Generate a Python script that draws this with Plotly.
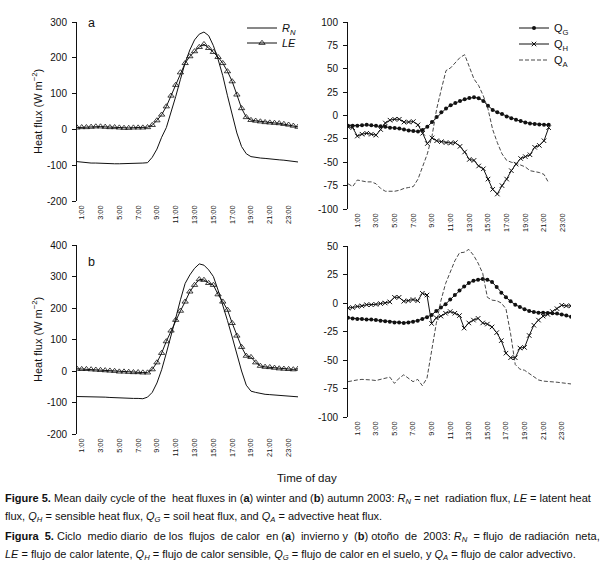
import plotly.graph_objects as go

W, H = 601, 569

# ---------------- data ----------------
# half-hour time axis (hours)
t_left = [i / 2 for i in range(1, 49)]        # 0:30 ... 24:00
t_right_a = [i / 2 for i in range(0, 44)]     # 0:00 ... 21:30
t_right_b = [i / 2 for i in range(0, 49)]     # 0:00 ... 24:00

hour_tick_vals = [1, 3, 5, 7, 9, 11, 13, 15, 17, 19, 21, 23]
hour_tick_text = ["1:00", "3:00", "5:00", "7:00", "9:00", "11:00", "13:00",
                  "15:00", "17:00", "19:00", "21:00", "23:00"]

# (a) winter
RN_a = [-90, -92, -93, -94, -94, -95, -95, -96, -96, -96, -96, -95, -95, -95, -94, -93,
        -78, -55, -22, 5, 46, 92, 140, 186, 222, 250, 266, 272, 262, 234, 196, 150,
        94, 42, -10, -48, -68, -76, -79, -80, -81, -83, -84, -85, -86, -87, -89, -91]
LE_a = [5, 6, 6, 7, 8, 8, 7, 6, 6, 5, 4, 4, 5, 5, 5, 6,
        12, 25, 41, 64, 94, 124, 159, 185, 204, 218, 230, 238, 227, 216, 202, 185,
        162, 134, 97, 59, 34, 26, 24, 22, 20, 19, 18, 17, 15, 13, 10, 7]
QG_a = [-11, -11, -11, -10.5, -10, -10.5, -11, -11.5, -12, -13, -13.5, -14, -15, -16, -16.7, -17,
        -15.5, -12, -7, -1.5, 3.5, 7.5, 11, 13.5, 15.5, 17.3, 18.8, 19.5, 18.5, 15.5, 10.5, 6,
        3.5, 1.5, -1, -3, -4.5, -6, -7.5, -8.5, -9, -9.5, -10, -10]
QH_a = [-12, -13, -22, -20, -19, -20, -21, -15, -8, -5, -4, -4, -7, -7, -6.5, -10,
        -19, -30, -24, -27, -28, -29, -29.5, -29, -33, -39, -47, -48, -54, -57, -68, -79,
        -84, -75, -68, -59, -52, -46, -44, -42, -34, -32, -27, -13]
QA_a = [-73, -76, -69, -70, -71, -71, -73, -78, -81, -81, -81, -80, -78, -77, -76, -68,
        -54, -41, -22, 7, 28, 48, 51, 56, 62, 65, 53, 39, 32, 21, 7, -15,
        -29, -41, -48, -50, -51, -53, -55, -59, -60, -61, -63, -72]

# (b) autumn
RN_b = [-81, -81, -81, -81, -82, -82, -83, -84, -85, -85, -86, -86, -87, -87, -88, -83,
        -68, -38, 4, 57, 110, 168, 226, 278, 305, 326, 340, 336, 321, 300, 257, 210,
        160, 108, 52, 0, -45, -64, -68, -72, -74, -75, -76, -77, -78, -80, -81, -82]
LE_b = [7, 6, 6, 5, 4, 3, 2, 1, 0, -2, -2, -3, -4, -4, -5, -5,
        5, 27, 57, 94, 128, 162, 191, 220, 252, 273, 291, 289, 279, 273, 243, 220,
        194, 152, 112, 76, 48, 44, 27, 16, 13, 12, 10, 8, 7, 6, 5, 7]
QG_b = [-13, -13.5, -14, -14, -14.5, -14.5, -15, -15.5, -16, -16.5, -17, -17, -17.5, -17, -16.5, -15.5,
        -14, -12.5, -10.5, -7, -4, -1, 3, 7, 11, 14.5, 17.5, 19.5, 20.5, 21, 20.5, 18.5,
        14, 9, 5, 1.5, -1.5, -3.5, -5.5, -7, -8, -8.5, -8.5, -8.7, -9, -9.3, -10, -11, -12]
QH_b = [-4.5, -4, -3, -2.5, -1.5, -1.5, -1.2, -0.5, 0, 1, 5, 5, 1.5, 2, 3, 2,
        8.5, 7, -18, -13, -11.5, -9, -7.5, -9, -11, -22, -17.5, -15, -13.5, -17.5, -18.5, -21,
        -26, -33, -44, -48, -48, -39.5, -39, -28.5, -19.5, -15, -11.5, -10, -7.5, -5, -2, -2.5, -2.5]
QA_b = [-69, -68, -67.5, -67, -67, -67.5, -68, -67, -66, -65, -70.5, -66, -63, -66, -69, -67,
        -72.5, -66, -40, -18, 2, 17, 27, 37, 44, 44.5, 47, 42, 35, 26, 5, 2.5,
        2, 0, -5, -27, -54, -58, -59, -62, -65, -67.5, -68.5, -68.7, -69, -69.5, -70, -70.5, -71]

yt_a_left = [-200, -100, 0, 100, 200, 300]
yt_a_right = [-100, -75, -50, -25, 0, 25, 50, 75, 100]
yt_b_left = [-200, -100, 0, 100, 200, 300, 400]
yt_b_right = [-100, -75, -50, -25, 0, 25, 50]

# ---------------- style ----------------
FONT = "Liberation Sans, Arial, sans-serif"
BLACK = "#111111"


def fx(px):
    return px / W


def fy(py):
    return 1 - py / H


panels = [
    dict(x0=77, x1=298, yt=22, yb=201, yr=[-200, 300], xr=[0.5, 24], yticks=yt_a_left,
         minor=[k + 0.5 for k in range(0, 24)]),
    dict(x0=348, x1=572, yt=22, yb=209, yr=[-100, 100], xr=[0, 24], yticks=yt_a_right,
         minor=list(range(0, 25))),
    dict(x0=77, x1=298, yt=245, yb=434, yr=[-200, 400], xr=[0.5, 24], yticks=yt_b_left,
         minor=[k + 0.5 for k in range(0, 24)]),
    dict(x0=348, x1=571, yt=246, yb=417, yr=[-100, 50], xr=[0, 24], yticks=yt_b_right,
         minor=list(range(0, 25))),
]

fig = go.Figure()
layout = {}
for i, p in enumerate(panels, start=1):
    xd = [fx(p["x0"]), fx(p["x1"])]
    yd = [fy(p["yb"]), fy(p["yt"])]
    r0, r1 = p["yr"]
    zero_pos = yd[0] + (0 - r0) / (r1 - r0) * (yd[1] - yd[0])
    layout[f"xaxis{i}"] = dict(
        domain=xd, anchor=f"y{i}", range=p["xr"], tickvals=hour_tick_vals,
        ticktext=hour_tick_text, tickangle=-90, showline=False, ticks="",
        zeroline=False, showgrid=False, tickfont=dict(family=FONT, size=7.4, color=BLACK),
        fixedrange=True, automargin=False, ticklabelstandoff=2,
    )
    layout[f"yaxis{i}"] = dict(
        domain=yd, anchor=f"x{i}", range=p["yr"], tickvals=p["yticks"],
        ticktext=[str(v) for v in p["yticks"]], ticks="outside", ticklen=4,
        tickcolor=BLACK, showline=True, linecolor=BLACK, linewidth=1,
        zeroline=False, showgrid=False, tickfont=dict(family=FONT, size=10, color=BLACK),
        fixedrange=True, automargin=False, ticklabelstandoff=3,
    )
    layout[f"xaxis{i + 4}"] = dict(
        overlaying=f"x{i}", anchor="free", position=zero_pos, range=p["xr"],
        side="bottom", showline=True, linecolor=BLACK, linewidth=1,
        ticks="outside", ticklen=4, tickcolor="#777777", tickvals=p["minor"],
        showticklabels=False, showgrid=False, zeroline=False, fixedrange=True,
        automargin=False,
    )

line_kw = dict(color=BLACK, width=1)
tri = dict(symbol="triangle-up-open", size=5.5, color=BLACK, line=dict(width=0.8, color=BLACK))
dot = dict(symbol="circle", size=4, color=BLACK)
cross = dict(symbol="x-thin", size=4.5, color=BLACK, line=dict(width=1, color=BLACK))
dash_kw = dict(color="#333333", width=0.9, dash="4px,2px")

# (a) left
fig.add_trace(go.Scatter(x=t_left, y=RN_a, mode="lines", line=line_kw,
                         name="<i>R<sub>N</sub></i>", xaxis="x1", yaxis="y1", legend="legend"))
fig.add_trace(go.Scatter(x=t_left, y=LE_a, mode="lines+markers", line=line_kw, marker=tri,
                         name="<i>LE</i>", xaxis="x1", yaxis="y1", legend="legend2"))
# (a) right
fig.add_trace(go.Scatter(x=t_right_a, y=QG_a, mode="lines+markers", line=line_kw, marker=dot,
                         name="Q<sub>G</sub>", xaxis="x2", yaxis="y2", legend="legend3"))
fig.add_trace(go.Scatter(x=t_right_a, y=QH_a, mode="lines+markers", line=line_kw, marker=cross,
                         name="Q<sub>H</sub>", xaxis="x2", yaxis="y2", legend="legend4"))
fig.add_trace(go.Scatter(x=t_right_a, y=QA_a, mode="lines", line=dash_kw,
                         name="Q<sub>A</sub>", xaxis="x2", yaxis="y2", legend="legend5"))
# (b) left
fig.add_trace(go.Scatter(x=t_left, y=RN_b, mode="lines", line=line_kw, showlegend=False,
                         xaxis="x3", yaxis="y3"))
fig.add_trace(go.Scatter(x=t_left, y=LE_b, mode="lines+markers", line=line_kw, marker=tri,
                         showlegend=False, xaxis="x3", yaxis="y3"))
# (b) right
fig.add_trace(go.Scatter(x=t_right_b, y=QG_b, mode="lines+markers", line=line_kw, marker=dot,
                         showlegend=False, xaxis="x4", yaxis="y4"))
fig.add_trace(go.Scatter(x=t_right_b, y=QH_b, mode="lines+markers", line=line_kw, marker=cross,
                         showlegend=False, xaxis="x4", yaxis="y4"))
fig.add_trace(go.Scatter(x=t_right_b, y=QA_b, mode="lines", line=dash_kw, showlegend=False,
                         xaxis="x4", yaxis="y4"))

leg_font = dict(family=FONT, size=11, color=BLACK)


def legend_at(px, py):
    return dict(x=fx(px), y=fy(py), xanchor="left", yanchor="middle",
                bgcolor="rgba(0,0,0,0)", borderwidth=0, font=leg_font,
                itemwidth=30, tracegroupgap=0)


layout["legend"] = legend_at(242, 28)
layout["legend2"] = legend_at(242, 43)
layout["legend3"] = legend_at(514, 28)
layout["legend4"] = legend_at(514, 44)
layout["legend5"] = legend_at(514, 60)

ann = []


def text_at(px, py, txt, size=11, xanchor="center", angle=0):
    ann.append(dict(x=fx(px), y=fy(py), xref="paper", yref="paper", text=txt,
                    showarrow=False, xanchor=xanchor, yanchor="middle", textangle=angle,
                    font=dict(family=FONT, size=size, color=BLACK)))


def spread(txt, n_extra):
    """Emulate justified text: widen n_extra word gaps with a non-breaking space."""
    if n_extra <= 0:
        return txt
    parts = txt.split(" ")
    gaps = len(parts) - 1
    chosen = {int((k + 0.5) * gaps / n_extra) for k in range(n_extra)}
    out = parts[0]
    for g in range(gaps):
        out += (" \u00a0" if g in chosen else " ") + parts[g + 1]
    return out


text_at(91, 23, "a", size=12.5)
text_at(91, 262, "b", size=12.5)
text_at(37, 112, "Heat flux (W m<sup>\u22122</sup>)", size=11, angle=-90)
text_at(37, 340, "Heat flux (W m<sup>\u22122</sup>)", size=11, angle=-90)
text_at(307, 478, "Time of day", size=11.5)

cap_lines = [
    "<b>Figure 5.</b> Mean daily cycle of the heat fluxes in (<b>a</b>) winter and (<b>b</b>) autumn 2003: "
    "<i>R<sub>N</sub></i> = net radiation flux, <i>LE</i> = latent heat",
    "flux, <i>Q<sub>H</sub></i> = sensible heat flux, <i>Q<sub>G</sub></i> = soil heat flux, and "
    "<i>Q<sub>A</sub></i> = advective heat flux.",
    "<b>Figura 5.</b> Ciclo medio diario de los flujos de calor en (<b>a</b>) invierno y (<b>b</b>) "
    "otoño de 2003: <i>R<sub>N</sub></i> = flujo de radiación neta,",
    "<i>LE</i> = flujo de calor latente, <i>Q<sub>H</sub></i> = flujo de calor sensible, "
    "<i>Q<sub>G</sub></i> = flujo de calor en el suelo, y <i>Q<sub>A</sub></i> = flujo de calor advectivo.",
]
cap_y = [499, 517, 537, 555]
cap_extra = [2, 0, 13, 0]
for txt, yy, ne in zip(cap_lines, cap_y, cap_extra):
    text_at(3, yy, spread(txt, ne), size=11, xanchor="left")

fig.update_layout(
    width=W, height=H, margin=dict(l=0, r=0, t=0, b=0, autoexpand=False),
    paper_bgcolor="white", plot_bgcolor="white",
    font=dict(family=FONT, color=BLACK), annotations=ann, showlegend=True,
    **layout,
)

fig.write_html("out.html", config={"displayModeBar": False},
               post_script="document.body.style.margin='0';")
